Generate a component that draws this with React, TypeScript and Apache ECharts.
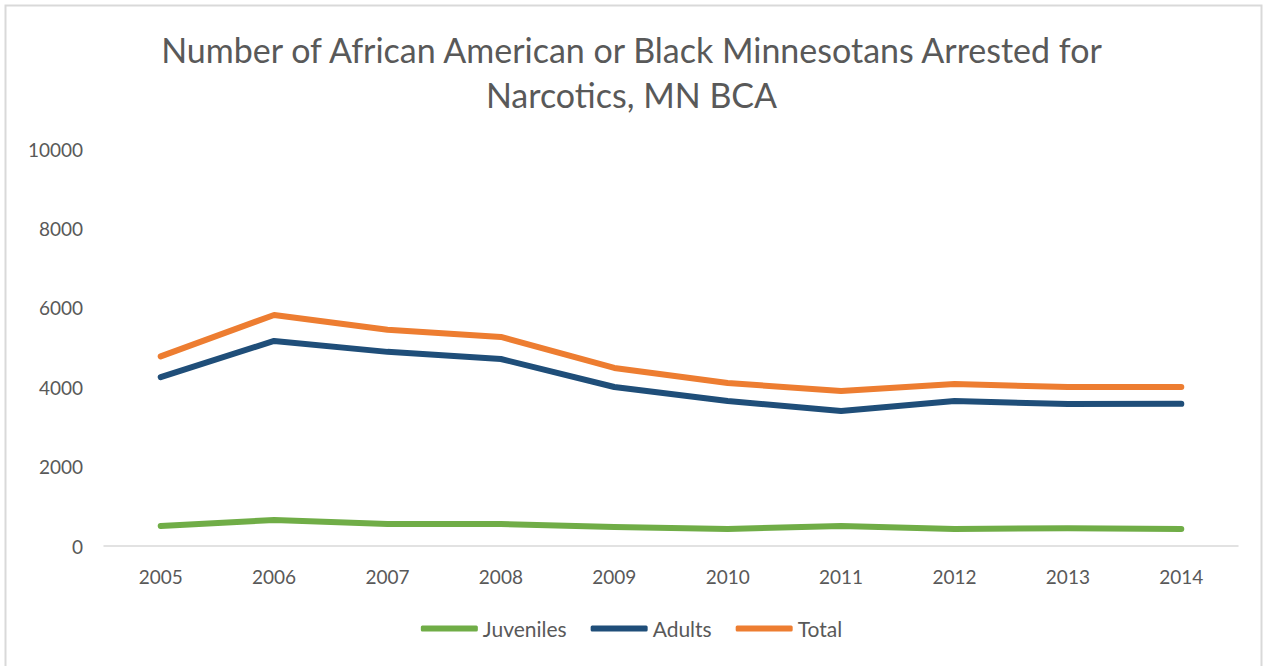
import React, { useEffect, useRef } from "react";
import * as echarts from "echarts";

const years = ["2005", "2006", "2007", "2008", "2009", "2010", "2011", "2012", "2013", "2014"];
const juveniles = [505, 655, 555, 555, 480, 430, 505, 430, 450, 430];
const adults = [4255, 5165, 4890, 4710, 4005, 3650, 3400, 3650, 3575, 3580];
const total = [4775, 5820, 5445, 5265, 4485, 4105, 3905, 4080, 4005, 4005];
const yTicks = { min: 0, max: 10000, interval: 2000 };

const FONT = "Lato, 'Open Sans', sans-serif";
const TEXT = "#595959";

export default function App() {
  const ref = useRef<HTMLDivElement>(null);
  useEffect(() => {
    if (!ref.current) return;
    const chart = echarts.init(ref.current, undefined, { renderer: "svg" });
    const lineSeries = (name: string, data: number[], color: string) => ({
      name,
      type: "line",
      data,
      showSymbol: false,
      symbol: "none",
      itemStyle: { color },
      lineStyle: { color, width: 6, cap: "round", join: "round" },
    });
    chart.setOption({
      animation: false,
      backgroundColor: "#ffffff",
      textStyle: { fontFamily: FONT },
      graphic: [
        {
          type: "rect",
          shape: { x: 5.5, y: 5.5, width: 1256, height: 720 },
          style: { fill: "none", stroke: "#d9d9d9", lineWidth: 2 },
          silent: true,
        },
      ],
      title: {
        text: "Number of African American or Black Minnesotans Arrested for\nNarcotics, MN BCA",
        left: "center",
        top: 22,
        textStyle: {
          fontFamily: FONT,
          fontSize: 34,
          fontWeight: "normal",
          color: TEXT,
          lineHeight: 45,
        },
      },
      legend: {
        bottom: 22,
        left: "center",
        itemWidth: 57,
        itemHeight: 6,
        itemGap: 24,
        icon: "roundRect",
        textStyle: { fontFamily: FONT, fontSize: 21, color: TEXT },
        data: ["Juveniles", "Adults", "Total"],
      },
      grid: { left: 104, right: 25, top: 149, bottom: 120, containLabel: false },
      xAxis: {
        type: "category",
        data: years,
        boundaryGap: true,
        axisLine: { show: true, lineStyle: { color: "#d9d9d9", width: 1.5 } },
        axisTick: { show: false },
        axisLabel: { fontFamily: FONT, fontSize: 19, color: TEXT, margin: 21 },
        splitLine: { show: false },
      },
      yAxis: {
        type: "value",
        min: yTicks.min,
        max: yTicks.max,
        interval: yTicks.interval,
        axisLine: { show: false },
        axisTick: { show: false },
        splitLine: { show: false },
        axisLabel: {
          fontFamily: FONT,
          fontSize: 19,
          color: TEXT,
          margin: 21,
          formatter: (v: number) => String(v),
        },
      },
      series: [
        lineSeries("Juveniles", juveniles, "#70ad47"),
        lineSeries("Adults", adults, "#1f4e79"),
        lineSeries("Total", total, "#ed7d31"),
      ],
    });
    return () => chart.dispose();
  }, []);
  return (
    <div
      ref={ref}
      style={{ position: "absolute", left: 0, top: 0, width: 1263, height: 666 }}
    />
  );
}
